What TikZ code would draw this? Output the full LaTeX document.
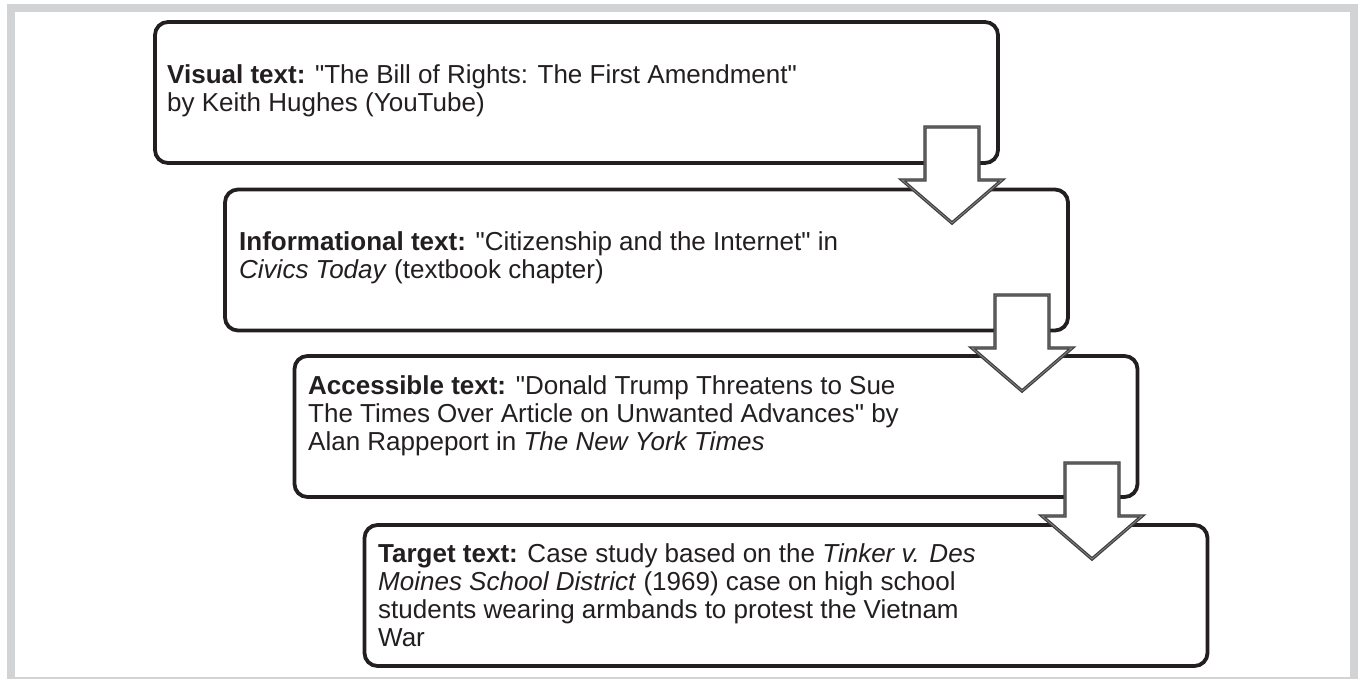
\documentclass[tikz,border=0pt]{standalone}
\usepackage{fontspec}
\setmainfont{Liberation Sans}[Ligatures=TeXOff]
\definecolor{frame}{HTML}{D1D3D4}
\definecolor{ink}{HTML}{231F20}
\definecolor{arrowdark}{HTML}{404040}
\definecolor{arrowmid}{HTML}{8A8A8A}
\tikzset{
  stagebox/.style={draw=ink, line width=3.8pt, rounded corners=13pt, fill=white,
    minimum width=843pt, minimum height=141pt, inner sep=0pt},
  stagetext/.style={anchor=base west, align=left, inner sep=0pt, text=ink,
    font=\fontsize{26}{28}\selectfont},
  downarrow/.style={draw=arrowdark, line width=1.3pt, double=arrowmid, double distance=0.7pt, fill=white, line join=miter},
}
\begin{document}
\begin{tikzpicture}[x=1pt,y=-1pt]
\useasboundingbox (0,0) rectangle (1359,679);
\fill[white] (0,0) rectangle (1359,679);
\draw[frame, line width=8pt] (11,8) rectangle (1353.5,681);

\node[stagebox] (b1) at (576.5,92.5) {};
\node[stagebox] (b2) at (646.5,260) {};
\node[stagebox] (b3) at (716,426.5) {};
\node[stagebox] (b4) at (786,595.5) {};

\node[stagetext] (t1) at (167,112) {\textbf{Visual text:} "The Bill of Rights: The First Amendment"\\by Keith Hughes (YouTube)};
\node[stagetext] (t2) at (239,278) {\textbf{Informational text:} "Citizenship and the Internet" in\\\textit{Civics Today} (textbook chapter)};
\node[stagetext] (t3) at (308,450) {\textbf{Accessible text:} "Donald Trump Threatens to Sue\\The Times Over Article on Unwanted Advances" by\\Alan Rappeport in \textit{The New York Times}};
\node[stagetext] (t4) at (378,646) {\textbf{Target text:} Case study based on the \textit{Tinker v. Des}\\\textit{Moines School District} (1969) case on high school\\students wearing armbands to protest the Vietnam\\War};

\coordinate (a1) at (952,127);
\coordinate (a2) at (1022,295);
\coordinate (a3) at (1092,463);
\foreach \a in {a1,a2,a3}{
  \draw[downarrow] ([xshift=-27pt]\a) -- ([xshift=27pt]\a) -- ([shift={(27pt,-53pt)}]\a)
    -- ([shift={(50pt,-53pt)}]\a) -- ([yshift=-96pt]\a) -- ([shift={(-50pt,-53pt)}]\a)
    -- ([shift={(-27pt,-53pt)}]\a) -- cycle;
}
\end{tikzpicture}
\end{document}
